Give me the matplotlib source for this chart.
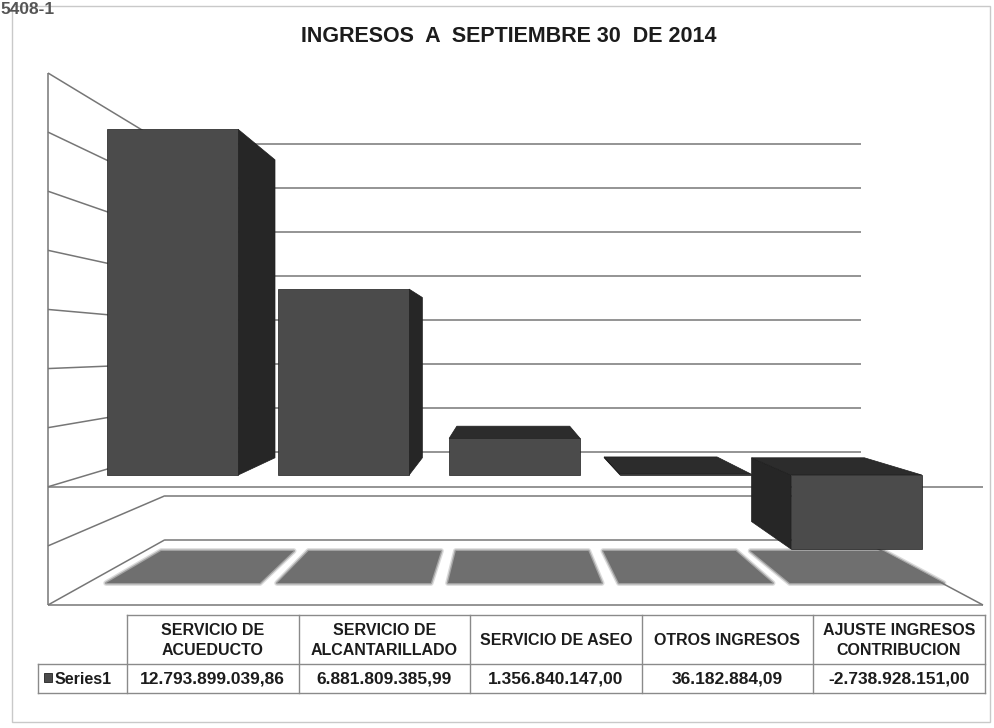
import matplotlib
matplotlib.use("Agg")
import matplotlib.pyplot as plt
from matplotlib.patches import Polygon, Rectangle

# ---- data -------------------------------------------------------------
TITLE = "INGRESOS  A  SEPTIEMBRE 30  DE 2014"
CATEGORIES = [
    "SERVICIO DE\nACUEDUCTO",
    "SERVICIO DE\nALCANTARILLADO",
    "SERVICIO DE ASEO",
    "OTROS INGRESOS",
    "AJUSTE INGRESOS\nCONTRIBUCION",
]
VALUES = [12793899039.86, 6881809385.99, 1356840147.00, 36182884.09, -2738928151.00]
SERIES_NAME = "Series1"
GRID_LEVELS = [-4e9, -2e9, 0, 2e9, 4e9, 6e9, 8e9, 10e9, 12e9, 14e9]
STAMP = "5408-1"

# ---- scene geometry (pixel space of the page) -------------------------
W, H = 995, 728
VX, VY = 505, 350            # vanishing point
FRONT_LEFT, FRONT_RIGHT = 48, 983
FRONT_TOP, FRONT_BOTTOM = 73, 605
Z_BACK = 0.344
Z_BAR = (0.094, 0.269)
BAR_HALF = 0.383
SHADOW_HALF, SHADOW_SHIFT = 0.45, 0.06

VMIN, VMAX = GRID_LEVELS[0], GRID_LEVELS[-1]
NCAT = len(CATEGORIES)

LINE = "#767676"
FRONT = "#4b4b4b"
SIDE = "#262626"
TOP = "#2c2c2c"
SHADOW = "#6f6f6f"
TEXT = "#1c1c1c"
FONT = ["Liberation Sans", "DejaVu Sans"]


def proj(c, v, z):
    """category units, value, depth -> page pixels (one point perspective)"""
    x = FRONT_LEFT + c * (FRONT_RIGHT - FRONT_LEFT) / NCAT
    y = FRONT_BOTTOM - (v - VMIN) / (VMAX - VMIN) * (FRONT_BOTTOM - FRONT_TOP)
    s = 1.0 / (1.0 + z)
    return VX + (x - VX) * s, VY + (y - VY) * s


def line3d(ax, p, q):
    ax.plot([p[0], q[0]], [p[1], q[1]], color=LINE, lw=1.1, solid_capstyle="butt")


def face(ax, pts, color, z):
    ax.add_patch(Polygon(pts, closed=True, facecolor=color, edgecolor="#1e1e1e", lw=0.5, zorder=z))


def fmt_es(v):
    s = f"{abs(v):,.2f}".replace(",", "X").replace(".", ",").replace("X", ".")
    return ("-" if v < 0 else "") + s


fig = plt.figure(figsize=(W / 100, H / 100), dpi=100)
ax = fig.add_axes([0, 0, 1, 1])
ax.set_xlim(0, W)
ax.set_ylim(H, 0)
ax.axis("off")

# page frame + stamp
ax.add_patch(Rectangle((12, 6), 978, 716, fill=False, edgecolor="#c9c9c9", lw=1.0))
ax.text(0, 10, STAMP, fontsize=12.5, color="#555555", fontweight="bold", va="center", ha="left",
        family=FONT)

ax.text(509, 37, TITLE, fontsize=15.5, fontweight="bold", color=TEXT, ha="center", va="center",
        family=FONT)

# walls and gridlines
for lv in GRID_LEVELS:
    line3d(ax, proj(0, lv, 0), proj(0, lv, Z_BACK))
    line3d(ax, proj(0, lv, Z_BACK), proj(NCAT, lv, Z_BACK))
line3d(ax, proj(0, VMIN, 0), proj(0, VMAX, 0))
line3d(ax, proj(0, VMIN, 0), proj(NCAT, VMIN, 0))
line3d(ax, proj(NCAT, VMIN, 0), proj(NCAT, VMIN, Z_BACK))
line3d(ax, proj(0, 0, 0), proj(NCAT, 0, 0))

# floor shadows under each bar (soft edged)
z1, z2 = Z_BAR
for i in range(NCAT):
    c0 = i + 0.5 + SHADOW_SHIFT - SHADOW_HALF
    c1 = i + 0.5 + SHADOW_SHIFT + SHADOW_HALF
    pts = [proj(c0, VMIN, z1), proj(c1, VMIN, z1), proj(c1, VMIN, z2), proj(c0, VMIN, z2)]
    for lw, a in [(4, 0.25), (2, 0.5)]:
        ax.add_patch(Polygon(pts, closed=True, facecolor="none", edgecolor=SHADOW, lw=lw,
                             alpha=a, joinstyle="round", zorder=2))
    ax.add_patch(Polygon(pts, closed=True, facecolor=SHADOW, edgecolor="none", zorder=2.1))

# bars
for i, v in enumerate(VALUES):
    c0, c1 = i + 0.5 - BAR_HALF, i + 0.5 + BAR_HALF
    lo, hi = min(0, v), max(0, v)
    if proj(c1, hi, z1)[0] < VX:
        face(ax, [proj(c1, lo, z1), proj(c1, lo, z2), proj(c1, hi, z2), proj(c1, hi, z1)], SIDE, 3)
    elif proj(c0, hi, z1)[0] > VX:
        face(ax, [proj(c0, lo, z1), proj(c0, lo, z2), proj(c0, hi, z2), proj(c0, hi, z1)], SIDE, 3)
    if proj(c0, hi, z1)[1] > VY:
        face(ax, [proj(c0, hi, z1), proj(c1, hi, z1), proj(c1, hi, z2), proj(c0, hi, z2)], TOP, 3)
    face(ax, [proj(c0, lo, z1), proj(c1, lo, z1), proj(c1, hi, z1), proj(c0, hi, z1)], FRONT, 4)

# data table
COL_X = [127, 298.5, 470, 641.5, 813, 985]
LEG_X = 38
ROW_Y = [615, 664, 693]
TL = "#8a8a8a"
for x in COL_X:
    ax.plot([x, x], [ROW_Y[0], ROW_Y[2]], color=TL, lw=1.0)
ax.plot([LEG_X, LEG_X], [ROW_Y[1], ROW_Y[2]], color=TL, lw=1.0)
ax.plot([COL_X[0], COL_X[-1]], [ROW_Y[0], ROW_Y[0]], color=TL, lw=1.0)
ax.plot([LEG_X, COL_X[-1]], [ROW_Y[1], ROW_Y[1]], color=TL, lw=1.0)
ax.plot([LEG_X, COL_X[-1]], [ROW_Y[2], ROW_Y[2]], color=TL, lw=1.0)

for i, (lab, v) in enumerate(zip(CATEGORIES, VALUES)):
    xc = (COL_X[i] + COL_X[i + 1]) / 2
    ax.text(xc, (ROW_Y[0] + ROW_Y[1]) / 2 + 1, lab, fontsize=11.5, fontweight="bold", color=TEXT,
            ha="center", va="center", linespacing=1.45, family=FONT)
    ax.text(xc, (ROW_Y[1] + ROW_Y[2]) / 2 + 1, fmt_es(v), fontsize=12.5, fontweight="bold", color=TEXT,
            ha="center", va="center", family=FONT)

ax.add_patch(Rectangle((44, 673), 8, 9, facecolor=FRONT, edgecolor="#222222", lw=0.6))
ax.text(55, (ROW_Y[1] + ROW_Y[2]) / 2 + 1, SERIES_NAME, fontsize=11.5, fontweight="bold", color=TEXT,
        ha="left", va="center", family=FONT)

fig.savefig("out.png", dpi=100)
